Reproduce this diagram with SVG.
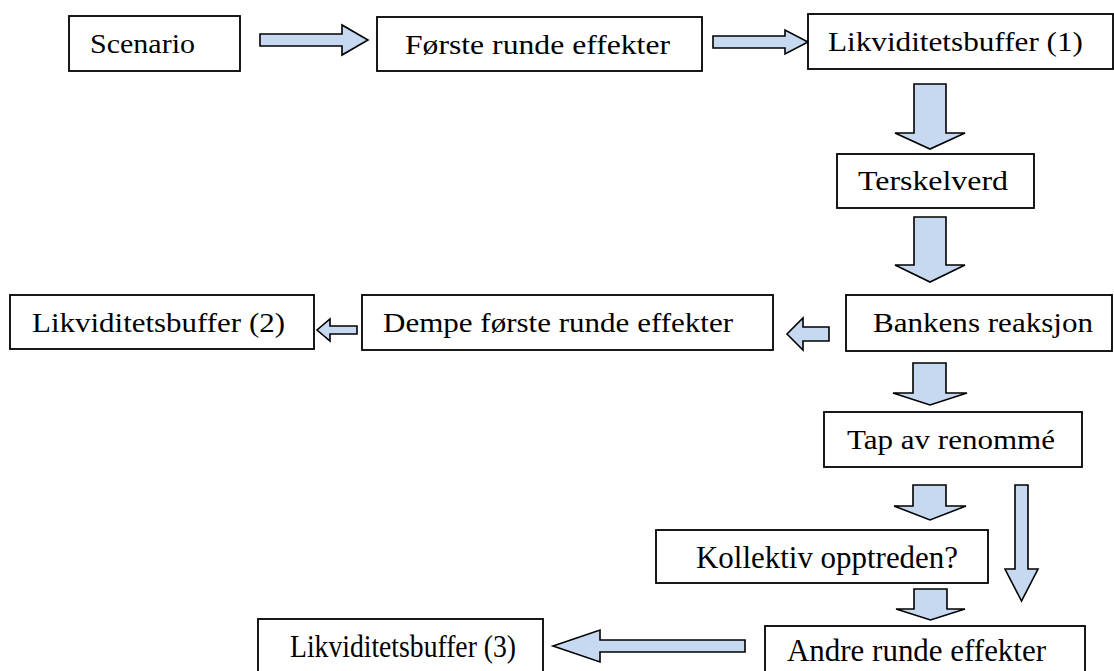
<svg xmlns="http://www.w3.org/2000/svg" width="1114" height="671" viewBox="0 0 1114 671">
<style>
.box{fill:#fff;stroke:#000;stroke-width:1.8}
.arr{fill:#c6d9f1;stroke:#000;stroke-width:1.6;stroke-linejoin:miter}
.t{font-family:"Liberation Serif",serif;font-size:28px;fill:#000}
.c{font-family:"Liberation Serif",serif;font-size:32px;fill:#000}
</style>
<rect width="1114" height="671" fill="#fff"/>
<g id="connectors">
<polygon class="arr" points="260,34 342,34 342,25 368,40 342,55 342,46 260,46"/>
<polygon class="arr" points="713,36 785,36 785,30 808,42 785,54 785,48 713,48"/>
<polygon class="arr" points="914,84 946,84 946,133 965,133 930,149 895,133 914,133"/>
<polygon class="arr" points="914,217 946,217 946,265 965,265 930,282 895,265 914,265"/>
<polygon class="arr" points="829,327 803,327 803,318 787,334 803,350 803,341 829,341"/>
<polygon class="arr" points="357,326 330,326 330,319 317,330 330,341 330,334 357,334"/>
<polygon class="arr" points="913,363 946,363 946,393 967,393 930,405 893,393 913,393"/>
<polygon class="arr" points="913,485 946,485 946,506 966,506 930,520 894,506 913,506"/>
<polygon class="arr" points="1015,485 1028,485 1028,569 1038,569 1021.5,601 1005,569 1015,569"/>
<polygon class="arr" points="914,589 947,589 947,609 965,609 930.5,620 896,609 914,609"/>
<polygon class="arr" points="745,640 600,640 600,630 553,646 600,662 600,652 745,652"/>
</g>
<g id="scenario"><rect class="box" x="69" y="16" width="171" height="55"/><text class="t" x="90" y="53" textLength="105" lengthAdjust="spacingAndGlyphs">Scenario</text></g>
<g id="forste"><rect class="box" x="377" y="17" width="325" height="54"/><text class="t" x="405" y="54" textLength="265" lengthAdjust="spacingAndGlyphs">Første runde effekter</text></g>
<g id="likv1"><rect class="box" x="808" y="14" width="305" height="55"/><text class="t" x="828" y="51" textLength="255" lengthAdjust="spacingAndGlyphs">Likviditetsbuffer (1)</text></g>
<g id="terskel"><rect class="box" x="837" y="154" width="197" height="54"/><text class="t" x="858" y="190" textLength="150" lengthAdjust="spacingAndGlyphs">Terskelverd</text></g>
<g id="bankens"><rect class="box" x="846" y="295" width="266" height="56"/><text class="t" x="873" y="332" textLength="220" lengthAdjust="spacingAndGlyphs">Bankens reaksjon</text></g>
<g id="dempe"><rect class="box" x="362" y="295" width="411" height="55"/><text class="t" x="383" y="332" textLength="350" lengthAdjust="spacingAndGlyphs">Dempe første runde effekter</text></g>
<g id="likv2"><rect class="box" x="10" y="295" width="304" height="54"/><text class="t" x="32" y="332" textLength="253" lengthAdjust="spacingAndGlyphs">Likviditetsbuffer (2)</text></g>
<g id="tap"><rect class="box" x="824" y="412" width="258" height="55"/><text class="t" x="847" y="449" textLength="208" lengthAdjust="spacingAndGlyphs">Tap av renommé</text></g>
<g id="kollektiv"><rect class="box" x="656" y="530" width="332" height="53"/><text class="c" x="696" y="568" textLength="262" lengthAdjust="spacingAndGlyphs">Kollektiv opptreden?</text></g>
<g id="andre"><rect class="box" x="765" y="626" width="320" height="60"/><text class="c" x="787" y="661" textLength="259" lengthAdjust="spacingAndGlyphs">Andre runde effekter</text></g>
<g id="likv3"><rect class="box" x="258" y="619" width="285" height="65"/><text class="c" x="290" y="657" textLength="226" lengthAdjust="spacingAndGlyphs">Likviditetsbuffer (3)</text></g>
</svg>
